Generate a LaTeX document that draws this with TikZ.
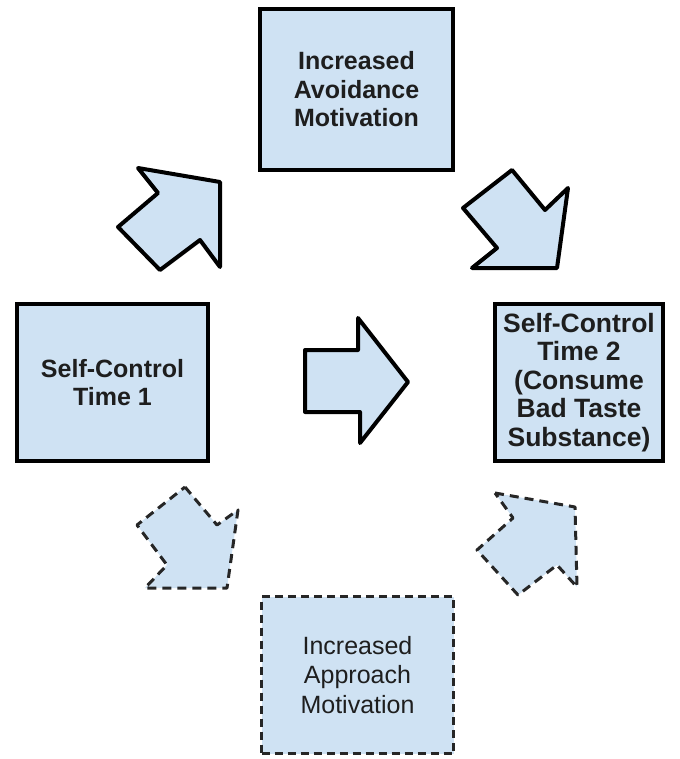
\documentclass[tikz,border=0pt]{standalone}
\usepackage{fontspec}
\setmainfont{Liberation Sans}
\definecolor{boxblue}{HTML}{CFE2F3}
\definecolor{inkgray}{HTML}{1E1E1E}

\begin{document}
\begin{tikzpicture}[x=1pt,y=-1pt]
\tikzset{
  solidbox/.style={draw=black, line width=4pt, fill=boxblue, align=center,
    inner sep=0pt, text=inkgray, font=\fontsize{25}{28.5}\selectfont\bfseries},
  dashbox/.style={draw=black!85, line width=3pt, dash pattern=on 8pt off 5pt,
    fill=boxblue, align=center, inner sep=0pt, text=inkgray,
    font=\fontsize{25}{29.5}\selectfont},
  solidarrow/.style={draw=black, line width=4pt, fill=boxblue, line join=round},
  dasharrow/.style={draw=black!85, line width=3pt, dash pattern=on 9pt off 6pt,
    fill=boxblue, line join=round}
}
\useasboundingbox (0,0) rectangle (679,759);

% boxes
\node[solidbox, minimum width=193pt, minimum height=161pt] (avoid) at (356.5,89.5)
  {Increased\\Avoidance\\Motivation};
\node[solidbox, minimum width=191pt, minimum height=157pt] (time1) at (112.5,382.5)
  {Self-Control\\Time 1};
\node[solidbox, minimum width=168pt, minimum height=157pt,
  font=\fontsize{26.5}{28.5}\selectfont\bfseries] (time2) at (579,382.5)
  {Self-Control\\Time 2\\(Consume\\Bad Taste\\Substance)};
\node[dashbox, minimum width=192pt, minimum height=157pt] (approach) at (357.5,675)
  {Increased\\Approach\\Motivation};

% block arrows
\draw[solidarrow] (138,168) -- (220,182) -- (220,267) -- (200,240) -- (160,270)
  -- (118,227) -- (158,193) -- cycle;
\draw[solidarrow] (512,170) -- (545,210) -- (568,188) -- (557,268) -- (472,268)
  -- (497,248) -- (463,208) -- cycle;
\draw[solidarrow] (305,350) -- (358,350) -- (358,318) -- (408,382) -- (360,443)
  -- (360,412) -- (305,412) -- cycle;
\draw[dasharrow] (185,487) -- (217,525) -- (238,510) -- (227,588) -- (145,588)
  -- (167,565) -- (137,525) -- cycle;
\draw[dasharrow] (495,493) -- (575,507) -- (577,587) -- (557,565) -- (518,595)
  -- (477,550) -- (513,518) -- cycle;
\end{tikzpicture}
\end{document}
